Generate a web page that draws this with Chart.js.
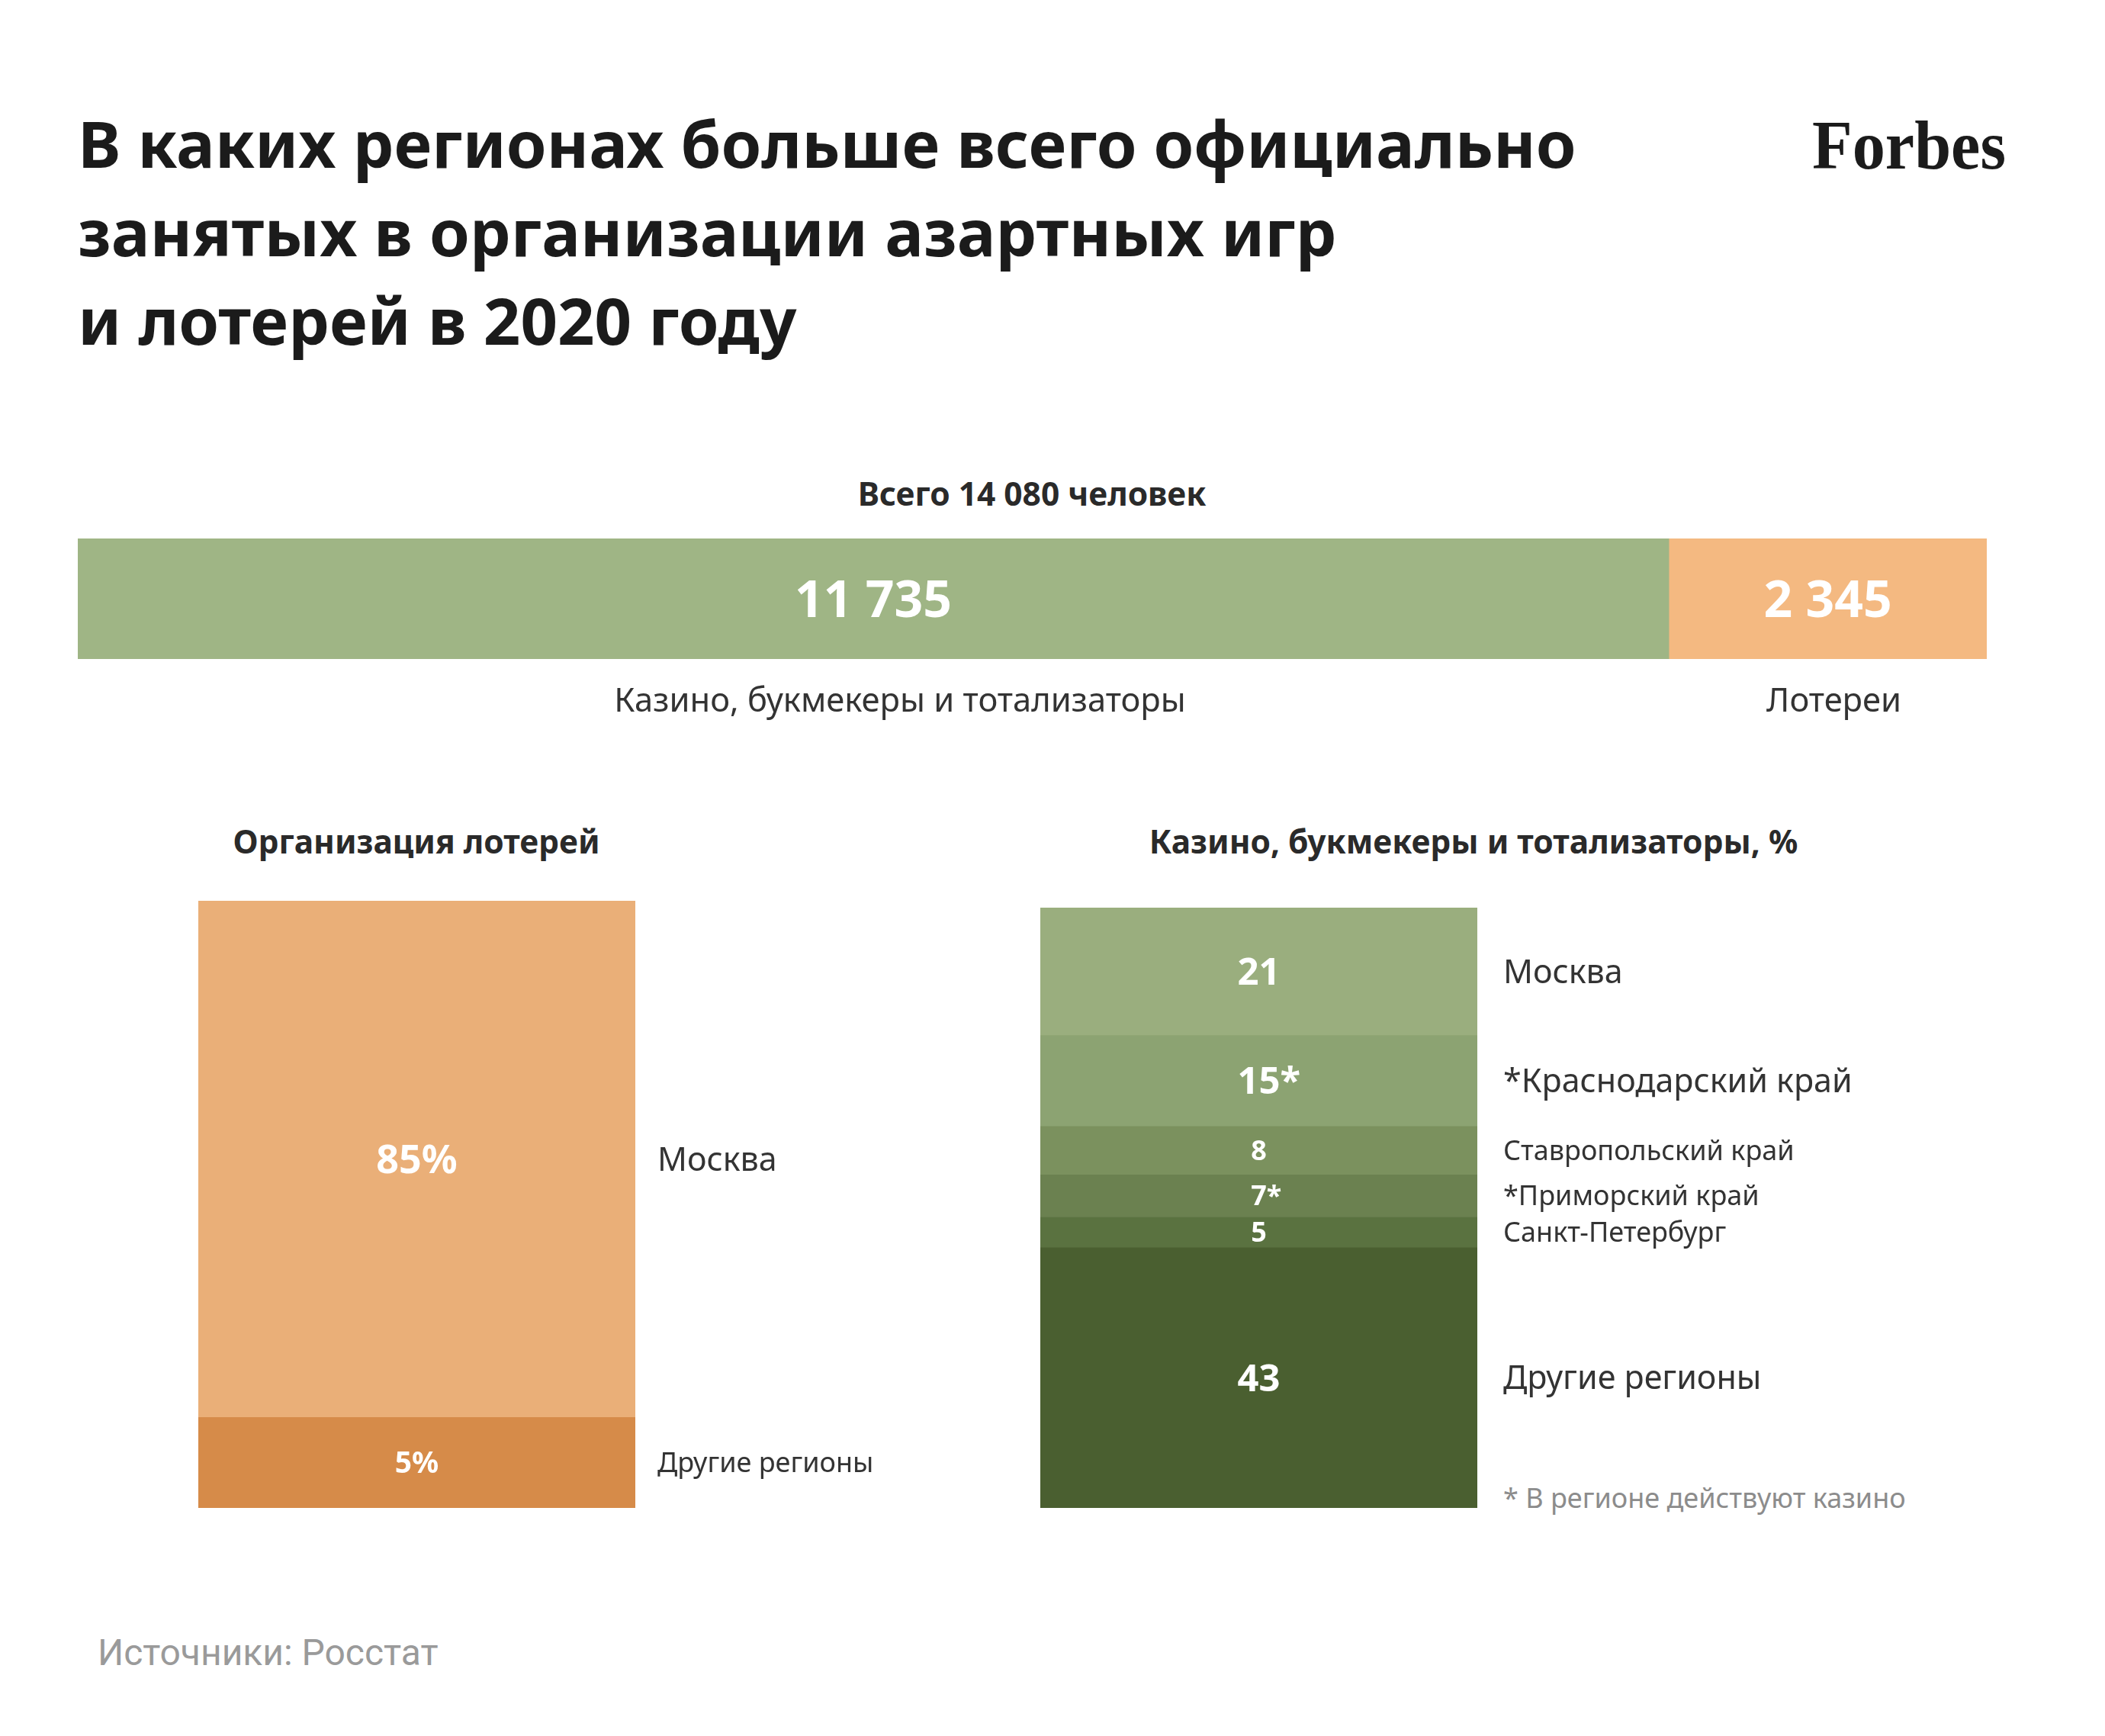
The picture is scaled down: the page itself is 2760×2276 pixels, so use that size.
<!DOCTYPE html>
<html lang="ru">
<head>
<meta charset="utf-8">
<title>Азартные игры и лотереи 2020</title>
<script src="https://cdn.jsdelivr.net/npm/chart.js@4.4.1/dist/chart.umd.min.js"></script>
<style>
  html, body { margin: 0; padding: 0; background: #fff; }
  #page { position: relative; width: 2760px; height: 2276px; overflow: hidden; font-family: 'Noto Sans', sans-serif; }
  .abs { position: absolute; white-space: nowrap; }
  #title { left: 102px; top: 129px; font-size: 85px; line-height: 116px; font-weight: 700; color: #1b1b1b; }
  #logo { left: 2376px; top: 130px; font-family: 'Liberation Serif', serif; font-weight: 700; font-size: 92px; line-height: 120px; color: #1b1b1b; transform-origin: 0 0; }
  .head { font-weight: 700; font-size: 42.5px; line-height: 60px; color: #2a2a2a; transform: translateX(-50%); }
  #note { left: 1971px; top: 1944px; font-size: 36px; line-height: 40px; color: #8c8c8c; }
  #source { left: 128px; top: 2137px; font-family: Roboto, sans-serif; font-size: 48px; line-height: 60px; color: #9a9a9a; }
  canvas { position: absolute; }
</style>
</head>
<body>
<div id="page">
  <div id="title" class="abs">В каких регионах больше всего официально<br>занятых в организации азартных игр<br>и лотерей в 2020 году</div>
  <div id="logo" class="abs">Forbes</div>
  <div id="total" class="abs head" style="left:1353px; top:617px;"></div>
  <div class="abs head" style="left:546px; top:1073px;">Организация лотерей</div>
  <div class="abs head" style="left:1932px; top:1073px;">Казино, букмекеры и тотализаторы, %</div>
  <div id="note" class="abs">* В регионе действуют казино</div>
  <div id="source" class="abs">Источники: Росстат</div>

  <canvas id="topChart" width="2503" height="250" style="left:102px; top:706px;"></canvas>
  <canvas id="lotteryChart" width="973" height="796" style="left:260px; top:1181px;"></canvas>
  <canvas id="casinoChart" width="1253" height="787" style="left:1364px; top:1190px;"></canvas>
</div>

<script>
// top bar: people employed, total 14 080
var totalLabel = 'Всего 14 080 человек';
var topCats = ['Казино, букмекеры и тотализаторы', 'Лотереи'];
var topValues = [11735, 2345];
var topValueLabels = ['11 735', '2 345'];

// lottery organisation, share by region (segment sizes as drawn)
var lotteryRegions = ['Москва', 'Другие регионы'];
var lotteryShares = [85, 15];
var lotteryLabels = ['85%', '5%'];

// casinos, bookmakers, totalisators, %
var casinoRegions = ['Москва', '*Краснодарский край', 'Ставропольский край', '*Приморский край', 'Санкт-Петербург', 'Другие регионы'];
var casinoShares = [21, 15, 8, 7, 5, 43];
var casinoLabels = ['21', '15*', '8', '7*', '5', '43'];

var topColors = ['#9fb585', '#f4b981'];
var lotteryColors = ['#eaaf78', '#d68b49'];
var casinoColors = ['#9aae7e', '#8ca372', '#7b915e', '#6b8150', '#5a7240', '#4a5f30'];

function sum(arr) {
    return arr.reduce(function (a, b) { return a + b; }, 0);
}

// draws the value inside each segment and the region name next to it
var segLabels = {
    id: 'segLabels',
    afterDatasetsDraw: function (chart, args, opts) {
        var ctx = chart.ctx;
        var area = chart.chartArea;
        ctx.save();
        chart.data.datasets.forEach(function (ds, i) {
            var bar = chart.getDatasetMeta(i).data[0];
            var p = bar.getProps(['x', 'y', 'base'], true);
            var cx, cy;
            if (opts.below) {
                cx = (p.x + p.base) / 2;
                cy = p.y;
            } else {
                cx = p.x;
                cy = (p.y + p.base) / 2;
            }
            // value
            var vs = opts.valueSizes[i];
            ctx.font = '700 ' + vs + 'px "Noto Sans"';
            ctx.fillStyle = '#ffffff';
            ctx.textBaseline = 'alphabetic';
            var txt = opts.values[i];
            var star = txt.slice(-1) === '*';
            var num = star ? txt.slice(0, -1) : txt;
            ctx.textAlign = 'center';
            ctx.fillText(num, cx, cy + vs * 0.357);
            if (star) {
                ctx.textAlign = 'left';
                ctx.fillText('*', cx + ctx.measureText(num).width / 2, cy + vs * 0.357);
            }
            // region / category name
            var ns = opts.nameSizes[i];
            ctx.font = '400 ' + ns + 'px "Noto Sans"';
            ctx.fillStyle = '#333333';
            if (opts.below) {
                ctx.textAlign = 'center';
                ctx.fillText(opts.names[i], cx + (opts.shift ? opts.shift[i] : 0), area.bottom + opts.gap + ns * 0.357);
            } else {
                ctx.textAlign = 'left';
                ctx.fillText(opts.names[i], area.right + opts.gap, cy + ns * 0.357);
            }
        });
        ctx.restore();
    }
};

function makeDatasets(values, colors) {
    return values.map(function (v, i) {
        return {
            data: [v],
            backgroundColor: colors[i],
            borderWidth: 0,
            barPercentage: 1,
            categoryPercentage: 1
        };
    });
}

function stackedChart(id, values, colors, horizontal, padding, labelOpts) {
    var valueAxis = { stacked: true, display: false, min: 0, max: sum(values), reverse: !horizontal };
    var catAxis = { stacked: true, display: false };
    return new Chart(document.getElementById(id), {
        type: 'bar',
        data: { labels: [''], datasets: makeDatasets(values, colors) },
        options: {
            indexAxis: horizontal ? 'y' : 'x',
            responsive: false,
            animation: false,
            layout: { padding: padding },
            scales: horizontal ? { x: valueAxis, y: catAxis } : { x: catAxis, y: valueAxis },
            plugins: {
                legend: { display: false },
                tooltip: { enabled: false },
                segLabels: labelOpts
            }
        },
        plugins: [segLabels]
    });
}

window.onload = function () {
    document.getElementById('total').textContent = totalLabel;

    // squeeze the logo to its width in the reference
    var logo = document.getElementById('logo');
    logo.style.transform = 'scaleX(' + (254 / logo.getBoundingClientRect().width) + ')';

    stackedChart('topChart', topValues, topColors, true, { top: 0, left: 0, right: 0, bottom: 92 }, {
        below: true, gap: 53, shift: [35, 8],
        values: topValueLabels, names: topCats,
        valueSizes: [66, 66], nameSizes: [43.5, 43.5]
    });

    stackedChart('lotteryChart', lotteryShares, lotteryColors, false, { top: 0, left: 0, right: 400, bottom: 0 }, {
        below: false, gap: 29,
        values: lotteryLabels, names: lotteryRegions,
        valueSizes: [52, 39], nameSizes: [43, 36]
    });

    stackedChart('casinoChart', casinoShares, casinoColors, false, { top: 0, left: 0, right: 680, bottom: 0 }, {
        below: false, gap: 34,
        values: casinoLabels, names: casinoRegions,
        valueSizes: [49, 49, 36, 36, 36, 49], nameSizes: [43, 43, 36, 36, 36, 43]
    });
};
</script>
</body>
</html>
